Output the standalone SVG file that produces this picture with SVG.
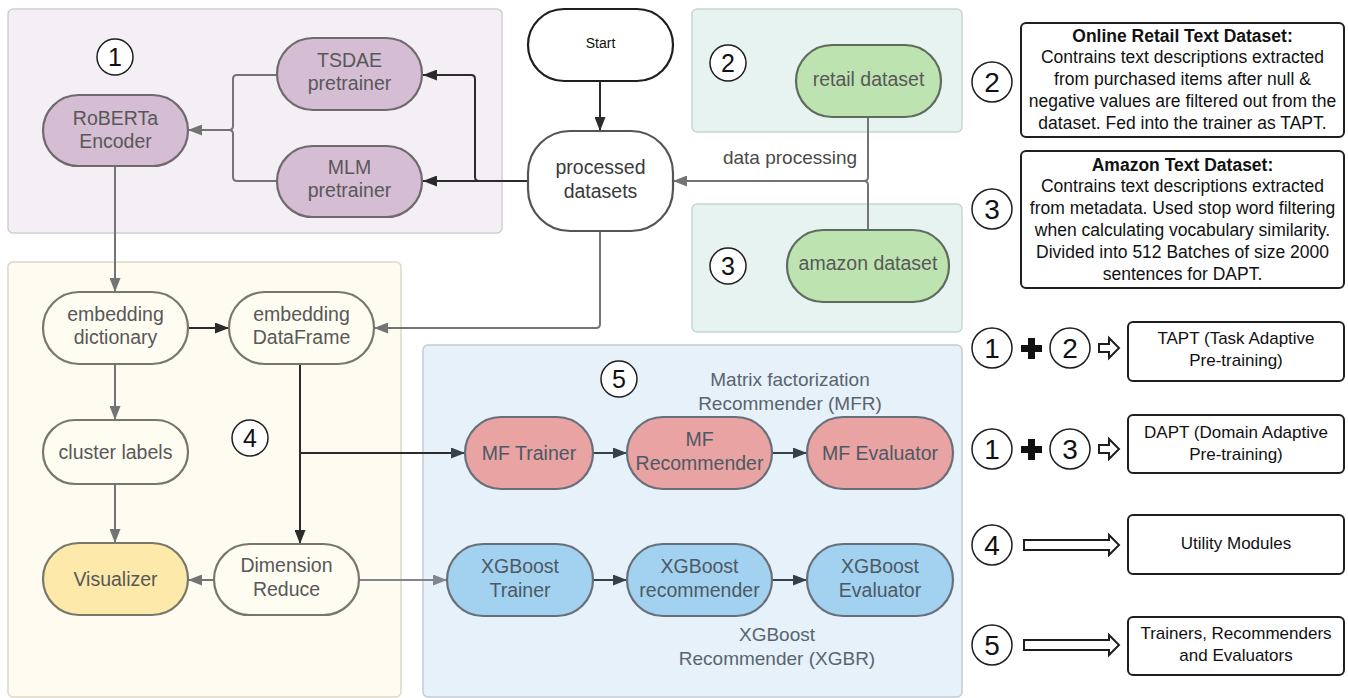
<svg xmlns="http://www.w3.org/2000/svg" width="1348" height="698" viewBox="0 0 1348 698">
<defs>
<style>
text{font-family:"Liberation Sans",Arial,sans-serif;}
.grp{stroke-width:1.5;}
.n{stroke-width:2.2;}
.purple{fill:#d5bdd4;stroke:#6e6a6e;}
.green{fill:#bde3b1;stroke:#5f6b5f;}
.cream{fill:#fffcf2;stroke:#78776b;}
.yellow{fill:#fde9a9;stroke:#78776b;}
.red{fill:#e8a3a2;stroke:#67707a;}
.blue{fill:#a3d2f1;stroke:#67707a;}
.white{fill:#ffffff;stroke:#1e1e1e;}
.nt{font-size:19.5px;fill:#585858;text-anchor:middle;}
.bt{font-size:19.5px;fill:#4d5964;text-anchor:middle;}
.lbl{font-size:19px;fill:#5a646e;text-anchor:middle;}
.circ{fill:#ffffff;stroke:#1e1e1e;stroke-width:1.5;}
.cn{font-size:25px;fill:#111;text-anchor:middle;}
.cn2{font-size:28px;fill:#111;text-anchor:middle;}
.box{fill:#ffffff;stroke:#1e1e1e;stroke-width:2;}
.bx{font-size:17.5px;fill:#111;text-anchor:middle;}
.bxb{font-size:17.5px;fill:#111;text-anchor:middle;font-weight:bold;}
.lt{font-size:17px;fill:#111;text-anchor:middle;}
.c{fill:none;stroke-width:2;}
.cg{stroke:#747474;}
.cd{stroke:#2b2b2b;}
.cb{stroke:#34404a;}
.cl{stroke:#80868c;}
.hollow{fill:#ffffff;stroke:#1e1e1e;stroke-width:2;stroke-linejoin:miter;}
</style>
<marker id="mg" markerUnits="userSpaceOnUse" markerWidth="15" markerHeight="11" refX="14" refY="5.5" orient="auto"><path d="M0,0 L14,5.5 L0,11 z" fill="#747474"/></marker>
<marker id="md" markerUnits="userSpaceOnUse" markerWidth="15" markerHeight="11" refX="14" refY="5.5" orient="auto"><path d="M0,0 L14,5.5 L0,11 z" fill="#2b2b2b"/></marker>
<marker id="mb" markerUnits="userSpaceOnUse" markerWidth="15" markerHeight="11" refX="14" refY="5.5" orient="auto"><path d="M0,0 L14,5.5 L0,11 z" fill="#34404a"/></marker>
<marker id="ml" markerUnits="userSpaceOnUse" markerWidth="15" markerHeight="11" refX="14" refY="5.5" orient="auto"><path d="M0,0 L14,5.5 L0,11 z" fill="#80868c"/></marker>
</defs>
<rect width="1348" height="698" fill="#ffffff"/>

<g id="groups">
<rect id="group1" class="grp" x="8" y="9" width="494" height="224" rx="5" fill="#f4eff5" stroke="#d2cdd4"/>
<rect id="group2" class="grp" x="692" y="9" width="270" height="123" rx="5" fill="#e6f3f0" stroke="#c8d6d2"/>
<rect id="group3" class="grp" x="692" y="204" width="270" height="128" rx="5" fill="#e6f3f0" stroke="#c8d6d2"/>
<rect id="group4" class="grp" x="8" y="262" width="393" height="435" rx="5" fill="#fefbf0" stroke="#ddd8c8"/>
<rect id="group5" class="grp" x="423" y="345" width="539" height="352" rx="5" fill="#e6f1fa" stroke="#c4ccd4"/>
</g>

<g id="connectors">
<path class="c cg" d="M277,75 H237 Q233,75 233,79 V126 Q233,130 229,130 H188" marker-end="url(#mg)"/>
<path class="c cg" d="M277,181 H237 Q233,181 233,177 V134 Q233,130 229,130"/>
<path class="c cd" d="M528,181 H479 Q475,181 475,177 V79 Q475,75 471,75 H423" marker-end="url(#md)"/>
<path class="c cd" d="M528,181 H423" marker-end="url(#md)"/>
<path class="c cd" d="M600,81 V131" marker-end="url(#md)"/>
<path class="c cg" d="M868,117 V177 Q868,181 864,181 H673" marker-end="url(#mg)"/>
<path class="c cg" d="M868,230 V185 Q868,181 864,181"/>
<text class="lbl" x="790" y="164" style="fill:#4a4a4a">data processing</text>
<path class="c cg" d="M600,231 V324 Q600,328 596,328 H374" marker-end="url(#mg)"/>
<path class="c cg" d="M115,166 V292" marker-end="url(#mg)"/>
<path class="c cd" d="M188,328 H229" marker-end="url(#md)"/>
<path class="c cg" d="M115,364 V420" marker-end="url(#mg)"/>
<path class="c cg" d="M115,484 V543" marker-end="url(#mg)"/>
<path class="c cd" d="M300,364 V544" marker-end="url(#md)"/>
<path class="c cd" d="M300,453 H465" marker-end="url(#mb)"/>
<path class="c cg" d="M214,580 H188" marker-end="url(#mg)"/>
<path class="c cl" d="M359,580 H447" marker-end="url(#ml)"/>
<path class="c cb" d="M593,453 H627" marker-end="url(#mb)"/>
<path class="c cb" d="M772,453 H807" marker-end="url(#mb)"/>
<path class="c cb" d="M593,580 H627" marker-end="url(#mb)"/>
<path class="c cb" d="M772,580 H807" marker-end="url(#mb)"/>
</g>

<g id="badge1"><circle class="circ" cx="115" cy="57" r="18"/><text class="cn" x="115" y="66">1</text></g>
<g id="badge2"><circle class="circ" cx="728" cy="63" r="18"/><text class="cn" x="728" y="72">2</text></g>
<g id="badge3"><circle class="circ" cx="728" cy="266" r="18"/><text class="cn" x="728" y="275">3</text></g>
<g id="badge4"><circle class="circ" cx="250" cy="438" r="18"/><text class="cn" x="250" y="447">4</text></g>
<g id="badge5"><circle class="circ" cx="619" cy="379" r="18"/><text class="cn" x="619" y="388">5</text></g>

<g id="roberta"><rect class="n purple" x="43" y="95" width="145" height="71" rx="35.5"/><text class="nt" x="115.5" y="125">RoBERTa</text><text class="nt" x="115.5" y="148">Encoder</text></g>
<g id="tsdae"><rect class="n purple" x="277" y="38" width="145" height="72" rx="36"/><text class="nt" x="349.5" y="67">TSDAE</text><text class="nt" x="349.5" y="90">pretrainer</text></g>
<g id="mlm"><rect class="n purple" x="277" y="146" width="145" height="71" rx="35.5"/><text class="nt" x="349.5" y="174">MLM</text><text class="nt" x="349.5" y="197">pretrainer</text></g>

<g id="start"><rect class="n white" x="528" y="9" width="145" height="72" rx="36"/><text x="600.5" y="48" style="font-size:14px;fill:#111;text-anchor:middle">Start</text></g>
<g id="processed"><rect class="n white" x="528" y="131" width="145" height="100" rx="42" style="stroke:#555"/><text class="nt" x="600.5" y="174" style="fill:#3a3a3a">processed</text><text class="nt" x="600.5" y="198" style="fill:#3a3a3a">datasets</text></g>

<g id="retail"><rect class="n green" x="796" y="45" width="145" height="72" rx="36"/><text class="nt" x="868.5" y="86">retail dataset</text></g>
<g id="amazon"><rect class="n green" x="787" y="230" width="162" height="72" rx="36"/><text class="nt" x="868" y="270">amazon dataset</text></g>

<g id="embdict"><rect class="n cream" x="43" y="292" width="145" height="72" rx="36"/><text class="nt" x="115.5" y="321">embedding</text><text class="nt" x="115.5" y="344">dictionary</text></g>
<g id="embdf"><rect class="n cream" x="229" y="292" width="145" height="72" rx="36"/><text class="nt" x="301.5" y="321">embedding</text><text class="nt" x="301.5" y="344">DataFrame</text></g>
<g id="cluster"><rect class="n cream" x="43" y="420" width="145" height="64" rx="32"/><text class="nt" x="115.5" y="459">cluster labels</text></g>
<g id="visualizer"><rect class="n yellow" x="43" y="543" width="145" height="72" rx="36"/><text class="nt" x="115.5" y="586">Visualizer</text></g>
<g id="dimred"><rect class="n cream" x="214" y="544" width="145" height="71" rx="35.5"/><text class="nt" x="286.5" y="572">Dimension</text><text class="nt" x="286.5" y="596">Reduce</text></g>

<g id="mfr-label"><text class="lbl" x="790" y="386">Matrix factorization</text><text class="lbl" x="790" y="410">Recommender (MFR)</text></g>
<g id="mftrainer"><rect class="n red" x="465" y="417" width="128" height="72" rx="36"/><text class="bt" x="529" y="460">MF Trainer</text></g>
<g id="mfrec"><rect class="n red" x="627" y="417" width="145" height="72" rx="36"/><text class="bt" x="699.5" y="446">MF</text><text class="bt" x="699.5" y="470">Recommender</text></g>
<g id="mfeval"><rect class="n red" x="807" y="417" width="146" height="72" rx="36"/><text class="bt" x="880" y="460">MF Evaluator</text></g>
<g id="xgbtrainer"><rect class="n blue" x="447" y="544" width="146" height="72" rx="36"/><text class="bt" x="520" y="573">XGBoost</text><text class="bt" x="520" y="597">Trainer</text></g>
<g id="xgbrec"><rect class="n blue" x="627" y="544" width="145" height="72" rx="36"/><text class="bt" x="699.5" y="573">XGBoost</text><text class="bt" x="699.5" y="597">recommender</text></g>
<g id="xgbeval"><rect class="n blue" x="807" y="544" width="146" height="72" rx="36"/><text class="bt" x="880" y="573">XGBoost</text><text class="bt" x="880" y="597">Evaluator</text></g>
<g id="xgbr-label"><text class="lbl" x="777" y="641">XGBoost</text><text class="lbl" x="777" y="665">Recommender (XGBR)</text></g>

<g id="legend-retail">
<circle class="circ" cx="992" cy="82" r="20"/><text class="cn2" x="992" y="92">2</text>
<rect class="box" x="1021" y="23" width="323" height="114" rx="5"/>
<text class="bxb" x="1182.5" y="42">Online Retail Text Dataset:</text>
<text class="bx" x="1182.5" y="63">Contrains text descriptions extracted</text>
<text class="bx" x="1182.5" y="85">from purchased items after null &amp;</text>
<text class="bx" x="1182.5" y="107">negative values are filtered out from the</text>
<text class="bx" x="1182.5" y="129">dataset. Fed into the trainer as TAPT.</text>
</g>
<g id="legend-amazon">
<circle class="circ" cx="992" cy="209" r="20"/><text class="cn2" x="992" y="219">3</text>
<rect class="box" x="1021" y="151" width="323" height="137" rx="5"/>
<text class="bxb" x="1182.5" y="171">Amazon Text Dataset:</text>
<text class="bx" x="1182.5" y="192">Contrains text descriptions extracted</text>
<text class="bx" x="1182.5" y="214">from metadata. Used stop word filtering</text>
<text class="bx" x="1182.5" y="236">when calculating vocabulary similarity.</text>
<text class="bx" x="1182.5" y="258">Divided into 512 Batches of size 2000</text>
<text class="bx" x="1182.5" y="280">sentences for DAPT.</text>
</g>
<g id="legend-tapt">
<circle class="circ" cx="992" cy="348" r="20"/><text class="cn2" x="992" y="358">1</text>
<path d="M1028,338 h7 v7 h7 v7 h-7 v7 h-7 v-7 h-7 v-7 h7 z" fill="#111"/>
<circle class="circ" cx="1070" cy="348" r="20"/><text class="cn2" x="1070" y="358">2</text>
<path class="hollow" d="M1099,344 h10 v-6 l10,10 l-10,10 v-6 h-10 z"/>
<rect class="box" x="1128" y="322" width="216" height="59" rx="5"/>
<text class="lt" x="1236" y="344">TAPT (Task Adaptive</text>
<text class="lt" x="1236" y="366">Pre-training)</text>
</g>
<g id="legend-dapt">
<circle class="circ" cx="992" cy="449" r="20"/><text class="cn2" x="992" y="459">1</text>
<path d="M1028,439 h7 v7 h7 v7 h-7 v7 h-7 v-7 h-7 v-7 h7 z" fill="#111"/>
<circle class="circ" cx="1070" cy="449" r="20"/><text class="cn2" x="1070" y="459">3</text>
<path class="hollow" d="M1099,445 h10 v-6 l10,10 l-10,10 v-6 h-10 z"/>
<rect class="box" x="1128" y="415" width="216" height="58" rx="5"/>
<text class="lt" x="1236" y="438">DAPT (Domain Adaptive</text>
<text class="lt" x="1236" y="460">Pre-training)</text>
</g>
<g id="legend-utility">
<circle class="circ" cx="992" cy="545" r="20"/><text class="cn2" x="992" y="555">4</text>
<path class="hollow" d="M1024,540 h85 v-5 l10,10 l-10,10 v-5 h-85 z"/>
<rect class="box" x="1128" y="515" width="216" height="59" rx="5"/>
<text class="lt" x="1236" y="549">Utility Modules</text>
</g>
<g id="legend-trainers">
<circle class="circ" cx="992" cy="645" r="20"/><text class="cn2" x="992" y="655">5</text>
<path class="hollow" d="M1024,640 h85 v-5 l10,10 l-10,10 v-5 h-85 z"/>
<rect class="box" x="1128" y="617" width="216" height="58" rx="5"/>
<text class="lt" x="1236" y="639">Trainers, Recommenders</text>
<text class="lt" x="1236" y="661">and Evaluators</text>
</g>
</svg>
